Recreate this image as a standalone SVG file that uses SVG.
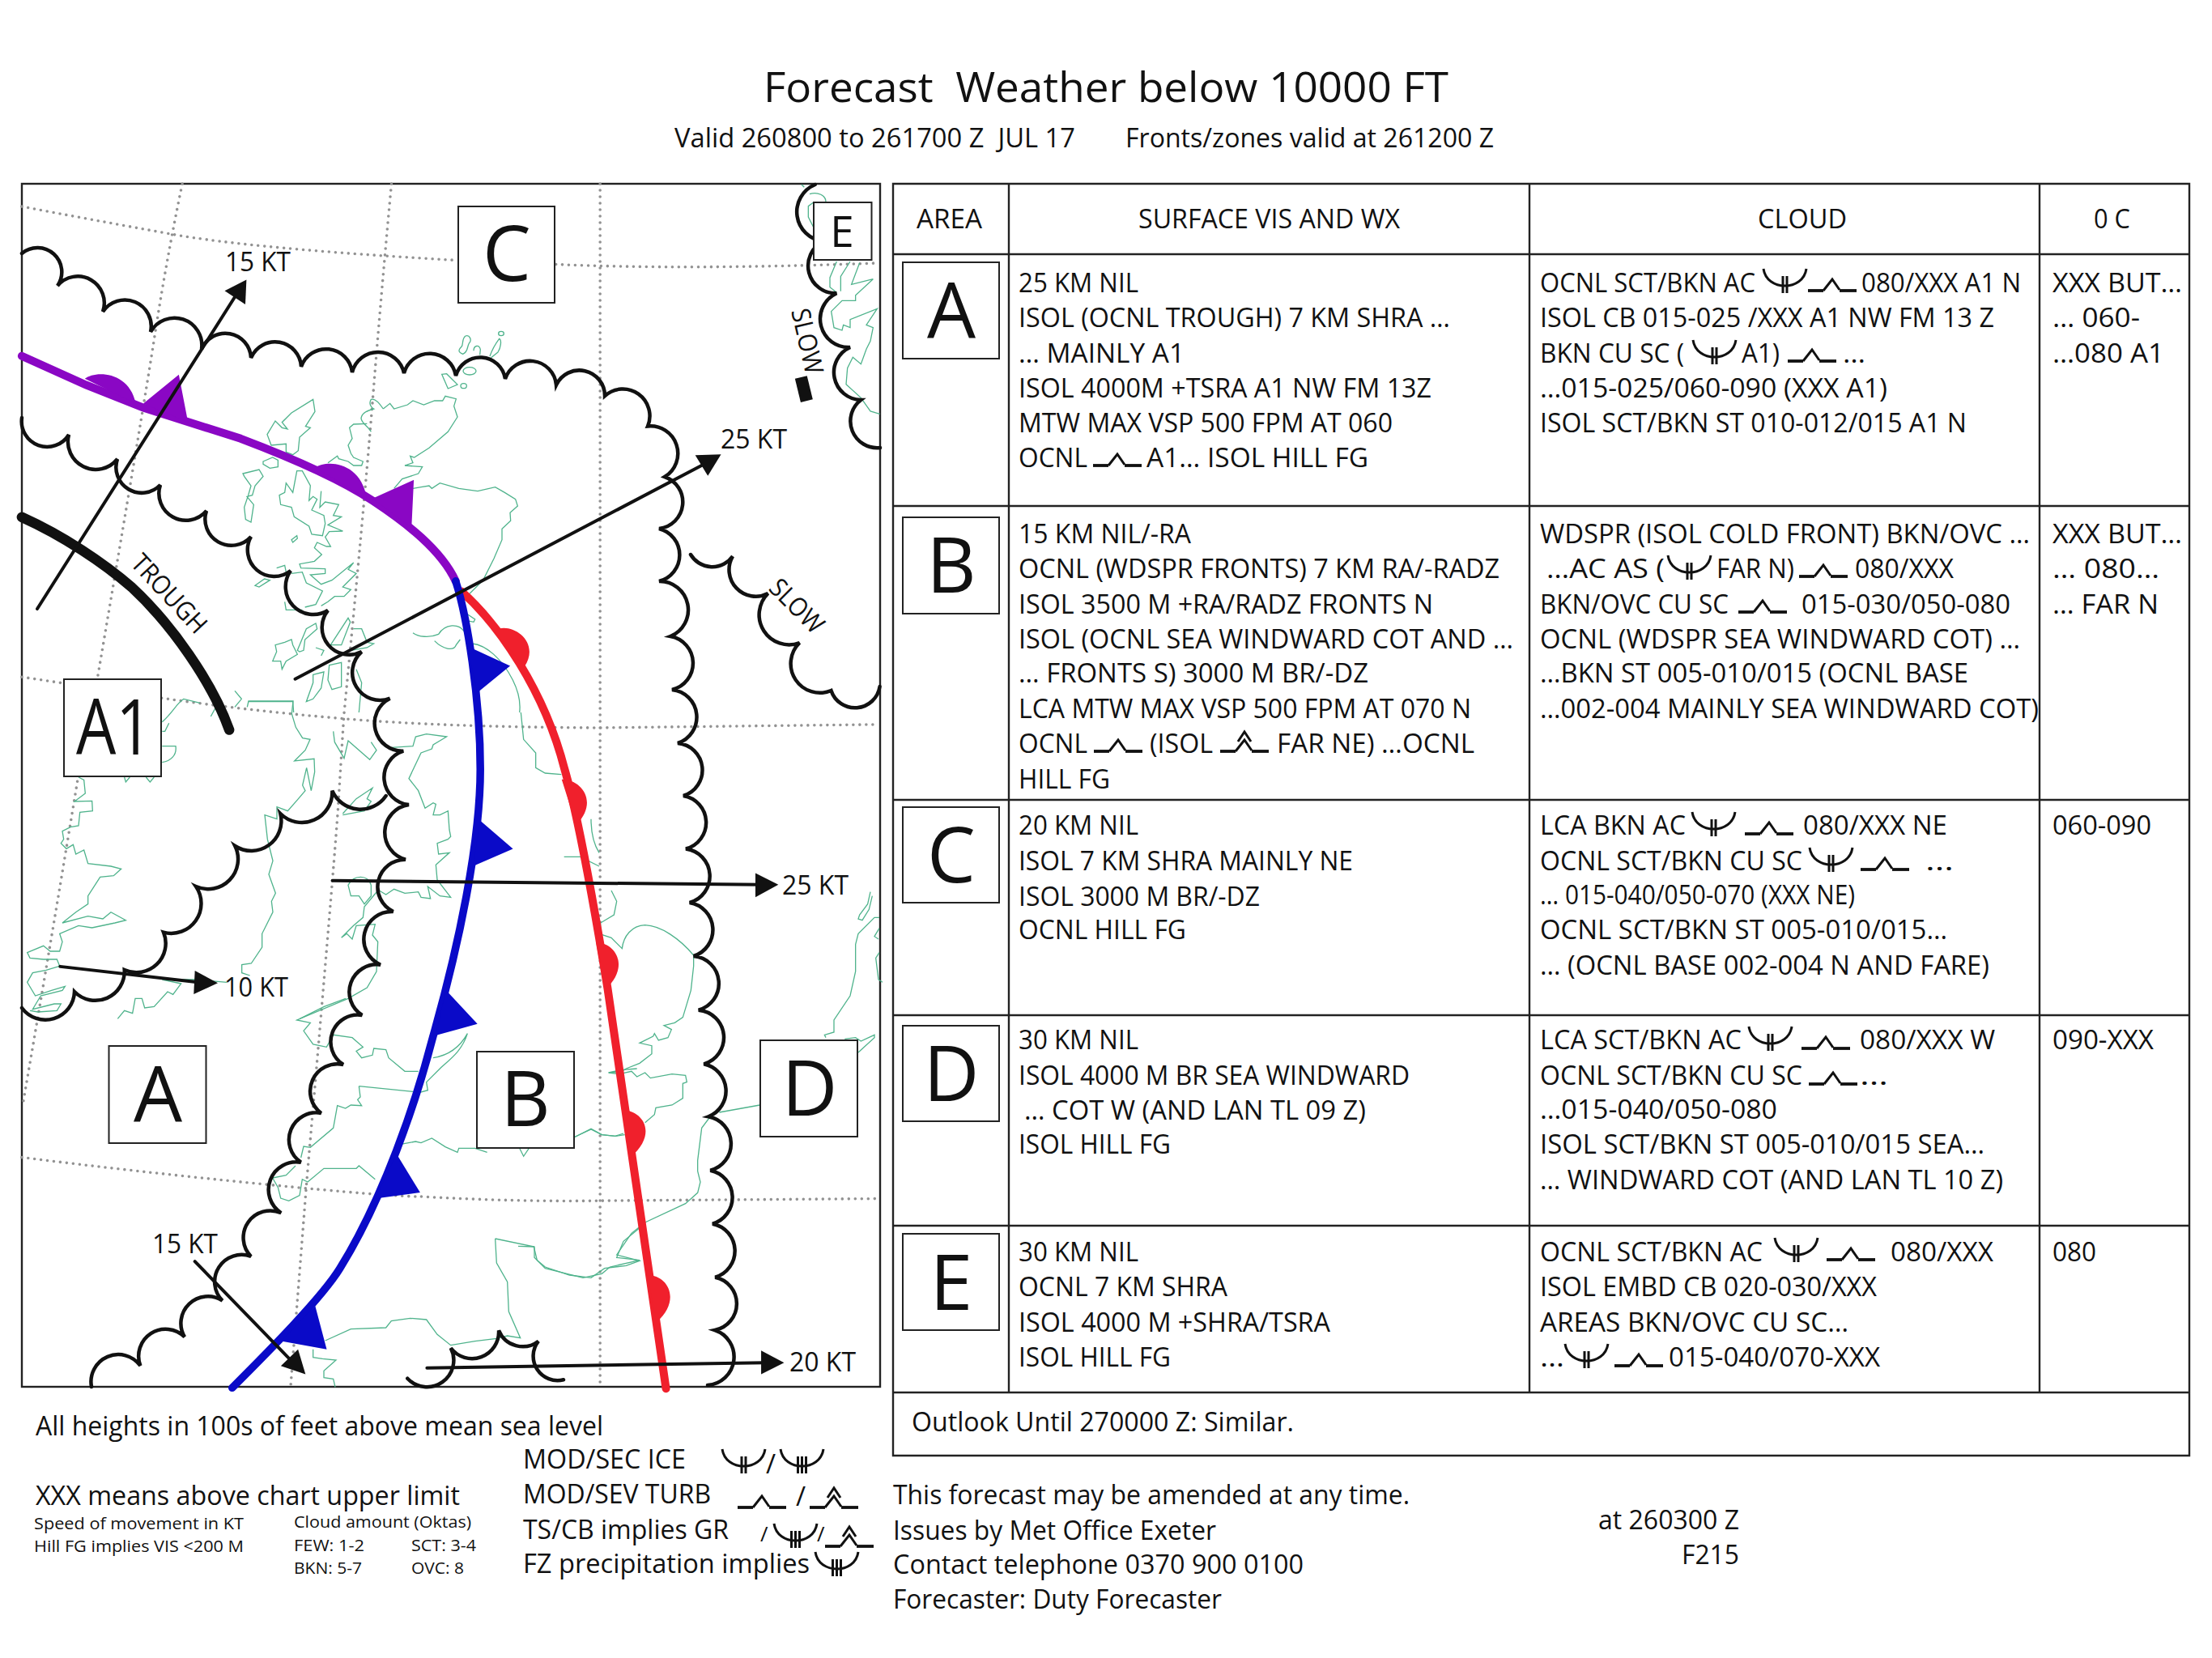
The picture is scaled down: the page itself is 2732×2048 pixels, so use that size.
<svg xmlns="http://www.w3.org/2000/svg" width="2732" height="2048" viewBox="0 0 2732 2048">
<style>
text{font-family:"Open Sans","Noto Sans","Liberation Sans",sans-serif;fill:#111;white-space:pre}
.t{font-size:33px}
.s{font-size:20.500px}
.k{font-size:32px}
.b{font-size:95px;text-anchor:middle}
.sl{font-size:26px}
.box{fill:#fff;stroke:#222;stroke-width:2}
.z *{vector-effect:non-scaling-stroke}
.grid{fill:none;stroke:#929292;stroke-width:3.600;stroke-dasharray:0 8;stroke-linecap:round}
.coast path,.coast ellipse{fill:none;stroke:#4fb38c;stroke-width:1.300;vector-effect:non-scaling-stroke}
.cloud{fill:none;stroke:#111;stroke-width:4.500;stroke-linecap:round;stroke-linejoin:miter}
.wind{fill:none;stroke:#111;stroke-width:4;stroke-linecap:round}
.rule{stroke:#222;stroke-width:2.400;fill:none}
.sym{fill:none;stroke:#111;stroke-width:3}
.symb{fill:none;stroke:#111;stroke-width:3.800}
</style>
<defs>
<g id="ice2"><path class="sym" d="M0 0C2 14 14 21 26.500 21C39 21 51 14 53 0"/><path class="sym" d="M24 9V30M29 9V30"/></g>
<g id="ice3"><path class="sym" d="M0 0C2 14 14 21 26.500 21C39 21 51 14 53 0"/><path class="sym" d="M21.500 9V30M26.500 9V30M31.500 9V30"/></g>
<g id="turb"><path class="symb" d="M0 15H19"/><path class="sym" d="M19 15L30 1L39 14"/><path class="symb" d="M39 15H60"/></g>
<g id="turbsev"><path class="symb" d="M0 25H19"/><path class="sym" d="M19 25L30 11L39 24M22 13L30 1L38 13"/><path class="symb" d="M39 25H60"/></g>
</defs>
<g id="title">
<text x="943" y="126" font-size="52" textLength="846" lengthAdjust="spacingAndGlyphs">Forecast  Weather below 10000 FT</text>
<text class="t" x="833" y="182" textLength="495" lengthAdjust="spacingAndGlyphs">Valid 260800 to 261700 Z  JUL 17</text>
<text class="t" x="1390" y="182" textLength="455" lengthAdjust="spacingAndGlyphs">Fronts/zones valid at 261200 Z</text>
</g>
<g id="map">
<rect x="27" y="227" width="1060" height="1486" fill="#fff" stroke="#222" stroke-width="2.400"/>
<g class="z" id="graticule" transform="matrix(.7079 0 0 .5102 0 200)">
<path class="grid" d="M38 108Q160 140 300 175T795 238M970 248Q1200 262 1530 245"/>
<path class="grid" d="M38 1247L110 1262M282 1298Q430 1328 600 1348T1045 1370L1530 1362"/>
<path class="grid" d="M38 2410Q240 2445 460 2475T735 2505Q900 2518 1050 2515L1530 2510"/>
<path class="grid" d="M318 53Q290 240 270 420T170 1250M135 1500Q90 1880 40 2280"/>
<path class="grid" d="M683 53Q665 320 650 580T600 1340Q595 1450 590 1560T535 2470L507 2966"/>
<path class="grid" d="M1047 53V2960"/>
</g>
<g id="coast" class="coast">
<g transform="translate(290 400) scale(.33333)">
<path d="M855 45C870 40 880 60 868 72C860 85 865 105 845 112C830 105 825 100 840 85C848 75 840 55 855 45ZM885 100C885 80 905 75 910 95L908 115M945 120C955 90 965 75 980 55C990 60 985 90 975 105L950 125"/>
<ellipse cx="987" cy="36" rx="10" ry="8"/><ellipse cx="870" cy="175" rx="24" ry="14"/><ellipse cx="848" cy="230" rx="11" ry="9"/>
<path d="M767 187L785 185L825 225L790 240ZM550 315C540 300 520 275 505 280C495 295 505 310 515 315C495 320 470 330 468 350C470 370 495 380 505 400M550 315L575 295L590 315L640 300L660 285L700 300L740 285L770 285L780 268L820 278L812 305L825 345L790 400L720 460L665 495L650 490L660 515L630 525L695 530L680 555L620 575L590 610M660 610L690 605L720 600L730 610L760 590L830 610L900 620L965 605L1000 625L1040 650L1048 675L1020 700L1022 730L990 760L990 800L960 870L920 950L870 1000"/>
<path d="M490 370L440 372L425 385L435 425L420 450L430 480L440 495L475 510L470 525L440 525L420 510L385 500L380 490L345 515M290 280L297 325L262 380L280 385L240 420L235 470L215 485L190 475L190 445L135 450L120 410L150 360L175 385L195 390L175 365L210 330ZM105 510L140 495L160 505L160 530L130 535L105 520ZM30 555L90 540L105 565L75 600L65 635L45 640L70 670L60 735L40 725L35 680L50 635L60 600L35 565Z"/>
<path d="M230 545L250 545L280 600L275 655L290 640L305 650L285 690L330 710L335 740L325 785L285 780L275 750L220 715L210 680L170 670L165 635L185 625L190 590L215 625ZM320 620L315 680L335 660L385 670L365 710L395 715L345 745L400 768L350 770L335 790L355 825L340 825L305 810L295 830L322 855L295 880L240 890L245 905L335 908L335 925L280 930L320 965L360 950L440 885L420 910L450 925L400 975L430 985L405 1010L370 1010L345 1030L320 1045M210 925L250 920L265 960L325 990L300 1040L260 1050M75 970L110 945L130 950L90 975ZM155 905L185 895L190 920M185 1030L190 1060L250 1060M210 800L230 785L232 795L215 810Z"/>
<path d="M355 1190L420 1090L428 1105L395 1190ZM232 1210L265 1130L300 1110L305 1130L260 1170L255 1210L240 1215ZM140 1250L155 1215L150 1190L185 1180L210 1170L215 1190L232 1225L190 1250L175 1280L170 1250ZM660 1145C680 1160 720 1165 755 1150C780 1110 830 1110 850 1140M740 1175C770 1205 810 1215 820 1190L835 1170M860 1075L890 1095L885 1105L860 1100M880 1185C930 1190 990 1240 1030 1320C1050 1360 1060 1400 1055 1440M440 1130L470 1130L490 1180L515 1185L490 1200L430 1210M300 1200L330 1210L320 1230M290 1300L330 1290L320 1350L290 1390L265 1400L290 1330ZM350 1265L395 1255L395 1345L360 1355L345 1320ZM450 1280L470 1330L460 1440M50 1400L215 1400L218 1440M0 1360L25 1390L0 1420"/>
</g>
<g transform="translate(27 860) scale(.33333)">
<path d="M520 95C560 60 570 30 600 10L660 25M700 75L730 20M545 100L530 130L520 130M520 185L570 185C575 220 550 240 520 245M380 300L385 318L400 300M460 300L475 318L490 300M835 40L840 18L1005 18L1000 65L1015 115L1040 155L1068 160L1050 200L1010 240L1083 232L1085 280L1072 350L1055 265L1040 330L1050 350L1020 385L985 425L945 410L945 455L900 440L910 530L930 610L915 660L940 730L925 760L930 800L890 880L890 930L850 990L815 995L815 1025L845 1035"/>
<path d="M210 300L230 310L235 360L195 390L260 388L262 425L215 430L210 480L180 485L150 500L155 530L145 545L165 565L190 550L200 585L230 570L245 620L330 630L368 640L340 665L290 670L245 740L245 770L200 800L150 840L245 815L300 825L330 800L385 830L345 840L260 858L210 850L140 880L150 910L140 945L105 945L80 925L20 950L30 970L80 975L130 975L140 1000L90 1015L40 1025L20 1060L50 1110L110 1090L160 1075L150 1090L70 1110L40 1160L120 1140L145 1140L130 1165L60 1170L30 1165M355 1195L380 1165L410 1175L420 1120L445 1120L455 1155L490 1150L540 1095L560 1105L590 1065L520 1050L640 1050L760 1060M1030 1195L1120 1150L1200 1120"/>
</g>
<g transform="translate(340 880) scale(.33333)">
<path d="M910 0L920 100L965 150L965 205L1000 225L1060 230M215 70L220 110L255 170L270 105L350 175L375 140L355 110M250 375L300 320L360 280L340 320L355 330L330 365L250 380M430 130L510 125L520 90L560 80L635 90L585 120L580 135L540 150L495 245L530 290L555 355L585 335L595 340L585 380L610 380L640 365L645 435L650 460L640 470L600 485L605 525L645 520L595 565L600 620L650 685L610 680L565 645L575 690L540 685L530 665L480 670L440 655L410 675L385 660M270 640C290 600 345 600 355 640L355 680L330 710L310 680L280 680L270 640ZM380 660L330 720L325 760L290 790L245 835L265 820L285 840L300 790L370 785L360 825L380 850L375 960L340 1020L270 1060L80 1140L130 1150L105 1180L140 1230L190 1240L215 1195L285 1205L325 1240L300 1255L320 1280L360 1270L365 1245L410 1250L420 1280L480 1330L530 1330M585 1280C650 1270 690 1230 712 1190C690 1260 640 1290 610 1320L560 1370L565 1400L530 1410"/>
<path d="M1170 395C1170 430 1175 480 1200 520M1070 535L1130 535L1200 570"/>
</g>
<g transform="translate(320 1300) scale(.33333)">
<path d="M370 125L570 145M370 125L375 165L365 175L380 197L340 195L320 207L290 197L275 280L190 352L165 348L155 390M135 420L100 455L50 465L70 500L80 540L110 550L150 530L160 470L180 480L240 430L360 430L370 420L430 470M525 340L580 330L600 335L640 318L690 350L735 370L740 355L800 355L845 370M965 355L980 385L1000 355M1165 315L1230 285L1270 305L1320 310L1350 300M875 690L880 780L920 850L925 960L968 1058L920 1050L880 1060L800 1070L710 1085L660 1045L620 990L560 985L490 995L470 1020L340 1025L245 1068M875 690L1020 720L1020 760L1060 800L1200 835L1270 820L1300 795L1410 770L1325 760L1350 700L1410 650M200 1100L200 1130L235 1135L285 1140L240 1180L240 1205L275 1210L282 1240M1295 75L1340 65L1400 60"/>
</g>
<g transform="translate(640 1100) scale(.33333)">
<path d="M345 0L365 40L355 90L305 120L305 150M300 160L345 175L385 215C390 170 420 130 470 128C530 130 600 180 650 240L650 280L640 370L610 470L580 490L540 500L568 515L555 545L520 555L505 530L500 540L450 565L495 575L495 605L450 640L400 660L385 670L335 675L375 680L420 670L440 690L470 675L490 695L570 680L620 685L625 710L610 715L610 770L570 795L510 805L505 830L470 860M207 915L270 883L310 905L360 910L395 905M745 822L895 795M710 840L680 880L665 1000L665 1040L675 1080L665 1120L620 1160L470 1230L420 1270L365 1350L450 1372L400 1390L320 1400L270 1435L190 1425L100 1395L70 1370L58 1320L0 1318"/>
<path d="M1305 5L1295 50L1265 90L1260 105L1275 110L1300 70L1312 20M1338 100L1320 100L1260 160L1250 200L1250 300L1230 390L1170 480L1170 525L1135 535L1140 545M1210 550L1250 545L1270 558L1320 535L1320 545L1260 600M1338 140L1320 170L1335 180M1338 230L1325 250L1335 330L1350 340"/>
</g>
<g transform="translate(950 228) scale(.33333)">
<path d="M120 0L130 10M150 35C180 25 210 40 210 65M165 65L145 80L145 120L165 160M250 285L225 345L225 380L250 400M300 285L265 340L265 395M335 290L305 370L385 350L320 410L320 430L270 430L230 470L240 530L270 540L275 520L300 530L300 500L400 460L360 520L385 530L375 580L360 610L340 665L310 640L290 680L285 740L340 790L375 840L410 850"/>
</g>
</g>
<g class="z" id="fronts" transform="matrix(.7079 0 0 .5102 0 200)">
<path fill="none" stroke="#8a07c4" stroke-width="10" stroke-linecap="round" d="M38 470L150 540L250 595L420 670C500 712 590 765 650 820C710 875 770 940 795 1015"/>
<path fill="#8a07c4" d="M148 525C165 505 225 505 237 585ZM550 740C570 720 630 725 640 815ZM250 585L312 515L328 630ZM650 815L722 770L718 885Z"/>
<path fill="none" stroke="#f0202c" stroke-width="10" stroke-linecap="round" d="M805 1040C870 1120 950 1280 985 1470C1010 1590 1040 1830 1060 2000L1162 2970"/>
<path fill="#f0202c" d="M862 1135C890 1110 945 1160 915 1222ZM980 1495C1015 1495 1045 1550 1005 1605ZM1040 1890C1075 1890 1100 1950 1055 2005ZM1085 2295C1120 2295 1150 2350 1100 2410ZM1130 2695C1165 2695 1190 2755 1145 2810Z"/>
<path fill="none" stroke="#0a0ac8" stroke-width="9.500" stroke-linecap="round" d="M795 1015C815 1100 838 1300 838 1470C838 1650 800 1900 755 2120C725 2280 669 2509 593 2679C562 2749 470 2878 405 2968"/>
<path fill="#0a0ac8" d="M815 1172L890 1220L833 1285ZM838 1595L895 1663L825 1705ZM778 2005L833 2087L760 2115ZM692 2402L733 2495L655 2510ZM550 2770L570 2875L490 2855Z"/>
<path fill="none" stroke="#111" stroke-width="12.500" stroke-linecap="round" d="M38 860C110 905 180 970 230 1030C300 1120 370 1260 400 1375"/>
</g>
<g id="clouds">
<path class="cloud" d="M27 313A30 30 0 0 1 71 353A32.800 32.800 0 0 1 127 385A32.600 32.600 0 0 1 186 410A33.800 33.800 0 0 1 249 431A31.800 31.800 0 0 1 310 442A32.300 32.300 0 0 1 372 453A32.500 32.500 0 0 1 435 460A32.800 32.800 0 0 1 499 461A32.800 32.800 0 0 1 563 464A31.300 31.300 0 0 1 624 468A32.400 32.400 0 0 1 687 475.500A31.500 31.500 0 0 1 747 489A33.300 33.300 0 0 1 800 526.500A33.800 33.800 0 0 1 821 589A33 33 0 0 1 814 653A33.500 33.500 0 0 1 814 718A35.300 35.300 0 0 1 828 786A33.700 33.700 0 0 1 830 852A33.900 33.900 0 0 1 837 918A33.300 33.300 0 0 1 844 983A33.500 33.500 0 0 1 847 1048.500A34 34 0 0 1 851.700 1115A34 34 0 0 1 856.700 1181A34 34 0 0 1 862.700 1247.700A34 34 0 0 1 869.300 1314.300A34 34 0 0 1 875 1379.300A34 34 0 0 1 877.300 1445.700A34 34 0 0 1 880 1511.700A34 34 0 0 1 883.300 1577.700A33.300 33.300 0 0 1 883 1643A35 35 0 0 1 874 1711"/>
<path class="cloud" d="M27 516A31.500 31.500 0 0 0 85 537A34.300 34.300 0 0 0 145 567A31.700 31.700 0 0 0 198 599A33.300 33.300 0 0 0 255 631A32.500 32.500 0 0 0 310 663A32.900 32.900 0 0 0 359 705A34.300 34.300 0 0 0 405 754A33.700 33.700 0 0 0 446.700 805A34.300 34.300 0 0 0 481.700 862.700A34.300 34.300 0 0 0 498.300 927.700A34 34 0 0 0 505 994A34.600 34.600 0 0 0 501 1061.700A33.800 33.800 0 0 0 485.700 1126A34.300 34.300 0 0 0 470 1191.700A33.900 33.900 0 0 0 447.300 1254A33.300 33.300 0 0 0 424 1315A33.700 33.700 0 0 0 396.700 1375A33.500 33.500 0 0 0 371.700 1435.700A34.300 34.300 0 0 0 347.300 1498.300A33.300 33.300 0 0 0 310 1552A33.300 33.300 0 0 0 274.700 1606.600A33.300 33.300 0 0 0 228 1651.500A33.300 33.300 0 0 0 173.400 1687A33.700 33.700 0 0 0 113 1713"/>
<path class="cloud" d="M27 1245A36 36 0 0 0 92 1225A36 36 0 0 0 153.700 1198A36 36 0 0 0 202 1151.700A37 37 0 0 0 242 1095A37 37 0 0 0 290.300 1045A37 37 0 0 0 346.300 1005A37.500 37.500 0 0 0 410.300 976.700A38 38 0 0 0 476.700 983"/>
<path class="cloud" d="M1006.700 228A36.500 36.500 0 0 0 1016.700 298A34 34 0 0 0 1033.300 362.300A35 35 0 0 0 1050 429A34 34 0 0 0 1063.300 494A33 33 0 0 0 1087 553"/>
<path class="cloud" d="M853 685A31 31 0 0 0 905 687A33 33 0 0 0 948.600 733A37 37 0 0 0 987.500 794A36 36 0 0 0 1026.500 853A31 31 0 0 0 1086.600 848"/>
<path class="cloud" d="M503.300 1702.700A33 33 0 0 0 556.700 1665A33 33 0 0 0 616 1643.300A32 32 0 0 0 665 1656.700A30 30 0 0 0 696 1704.300"/>
</g>
<g class="z" id="connectors" transform="matrix(.7079 0 0 .5102 0 200)">
<path class="wind" d="M65 1082L412 322"/><polygon points="430,285 392,312 428,345" fill="#111"/>
<path class="wind" d="M515 1252L1228 732"/><polygon points="1258,708 1213,710 1235,760" fill="#111"/>
<path class="wind" d="M580 1740L1330 1750"/><polygon points="1358,1750 1318,1722 1318,1780" fill="#111"/>
<path class="wind" d="M105 1948L345 1986"/><polygon points="380,1988 340,1958 338,2015" fill="#111"/>
<path class="wind" d="M340 2662L510 2905"/><polygon points="533,2935 520,2875 490,2915" fill="#111"/>
<path class="wind" d="M745 2920L1335 2907"/><polygon points="1368,2907 1328,2878 1328,2935" fill="#111"/>
<polygon points="1387,525 1408,518 1418,575 1397,582" fill="#111"/>
</g>
<g id="map-labels">
<text class="k" x="278" y="335" textLength="81" lengthAdjust="spacingAndGlyphs">15 KT</text>
<text class="k" x="890" y="554" textLength="82" lengthAdjust="spacingAndGlyphs">25 KT</text>
<text class="k" x="966" y="1105" textLength="82" lengthAdjust="spacingAndGlyphs">25 KT</text>
<text class="k" x="277" y="1231" textLength="79" lengthAdjust="spacingAndGlyphs">10 KT</text>
<text class="k" x="188" y="1548" textLength="81" lengthAdjust="spacingAndGlyphs">15 KT</text>
<text class="k" x="975" y="1694" textLength="82" lengthAdjust="spacingAndGlyphs">20 KT</text>
<text class="k" transform="translate(160 697) rotate(47)" textLength="120" lengthAdjust="spacingAndGlyphs">TROUGH</text>
<text class="k" transform="translate(948 728) rotate(45)" textLength="80" lengthAdjust="spacingAndGlyphs">SLOW</text>
<text class="k" transform="translate(977 384) rotate(77)" textLength="82" lengthAdjust="spacingAndGlyphs">SLOW</text>
</g>
</g>
<g id="zone-C"><rect class="box" x="566" y="255" width="119" height="119"/><text class="b" x="626" y="347">C</text></g>
<g id="zone-E"><rect class="box" x="1005" y="250" width="71.500" height="71"/><text class="b" style="font-size:53px" x="1040" y="305">E</text></g>
<g id="zone-A1"><rect class="box" x="79" y="839" width="120" height="120"/><text class="b" x="141" y="932" textLength="94" lengthAdjust="spacingAndGlyphs">A1</text></g>
<g id="zone-A"><rect class="box" x="134.500" y="1292" width="120" height="120"/><text class="b" x="195" y="1386">A</text></g>
<g id="zone-B"><rect class="box" x="589" y="1299" width="120" height="119"/><text class="b" x="649" y="1391">B</text></g>
<g id="zone-D"><rect class="box" x="939" y="1285" width="120" height="119"/><text class="b" x="1000" y="1378">D</text></g>
<g id="table">
<path class="rule" d="M1103 227H2704V1798H1103ZM1246 227V1720M1889 227V1720M2519 227V1720M1103 314H2704M1103 625H2704M1103 988H2704M1103 1254H2704M1103 1514H2704M1103 1720H2704"/>
<g id="header">
<text class="t" x="1132" y="282" textLength="81" lengthAdjust="spacingAndGlyphs">AREA</text>
<text class="t" x="1406" y="282" textLength="323" lengthAdjust="spacingAndGlyphs">SURFACE VIS AND WX</text>
<text class="t" x="2171" y="282" textLength="110" lengthAdjust="spacingAndGlyphs">CLOUD</text>
<text class="t" x="2586" y="282" textLength="45" lengthAdjust="spacingAndGlyphs">0 C</text>
</g>
<g id="row-A">
<rect class="box" x="1115" y="324" width="119" height="119"/><text class="b" x="1175" y="418">A</text>
<text class="t" x="1258" y="361" textLength="148" lengthAdjust="spacingAndGlyphs">25 KM NIL</text>
<text class="t" x="1258" y="404" textLength="533" lengthAdjust="spacingAndGlyphs">ISOL (OCNL TROUGH) 7 KM SHRA …</text>
<text class="t" x="1258" y="448" textLength="205" lengthAdjust="spacingAndGlyphs">… MAINLY A1</text>
<text class="t" x="1258" y="491" textLength="510" lengthAdjust="spacingAndGlyphs">ISOL 4000M +TSRA A1 NW FM 13Z</text>
<text class="t" x="1258" y="534" textLength="462" lengthAdjust="spacingAndGlyphs">MTW MAX VSP 500 FPM AT 060</text>
<text class="t" x="1258" y="577" textLength="85" lengthAdjust="spacingAndGlyphs">OCNL</text><use href="#turb" x="1350" y="560"/><text class="t" x="1416" y="577" textLength="274" lengthAdjust="spacingAndGlyphs">A1… ISOL HILL FG</text>
<text class="t" x="1902" y="361" textLength="266" lengthAdjust="spacingAndGlyphs">OCNL SCT/BKN AC</text><use href="#ice2" x="2178" y="332"/><use href="#turb" x="2233" y="344"/><text class="t" x="2299" y="361" textLength="197" lengthAdjust="spacingAndGlyphs">080/XXX A1 N</text>
<text class="t" x="1902" y="404" textLength="561" lengthAdjust="spacingAndGlyphs">ISOL CB 015-025 /XXX A1 NW FM 13 Z</text>
<text class="t" x="1902" y="448" textLength="178" lengthAdjust="spacingAndGlyphs">BKN CU SC (</text><use href="#ice2" x="2091" y="420"/><text class="t" x="2151" y="448" textLength="47" lengthAdjust="spacingAndGlyphs">A1)</text><use href="#turb" x="2208" y="431"/><text class="t" x="2276" y="448" textLength="28" lengthAdjust="spacingAndGlyphs">…</text>
<text class="t" x="1902" y="491" textLength="429" lengthAdjust="spacingAndGlyphs">…015-025/060-090 (XXX A1)</text>
<text class="t" x="1902" y="534" textLength="527" lengthAdjust="spacingAndGlyphs">ISOL SCT/BKN ST 010-012/015 A1 N</text>
<text class="t" x="2535" y="361" textLength="160" lengthAdjust="spacingAndGlyphs">XXX BUT…</text>
<text class="t" x="2535" y="404" textLength="108" lengthAdjust="spacingAndGlyphs">… 060-</text>
<text class="t" x="2535" y="448" textLength="138" lengthAdjust="spacingAndGlyphs">…080 A1</text>
</g>
<g id="row-B">
<rect class="box" x="1115" y="639" width="119" height="119"/><text class="b" x="1175" y="732">B</text>
<text class="t" x="1258" y="671" textLength="213" lengthAdjust="spacingAndGlyphs">15 KM NIL/-RA</text>
<text class="t" x="1258" y="714" textLength="594" lengthAdjust="spacingAndGlyphs">OCNL (WDSPR FRONTS) 7 KM RA/-RADZ</text>
<text class="t" x="1258" y="758" textLength="512" lengthAdjust="spacingAndGlyphs">ISOL 3500 M +RA/RADZ FRONTS N</text>
<text class="t" x="1258" y="801" textLength="611" lengthAdjust="spacingAndGlyphs">ISOL (OCNL SEA WINDWARD COT AND …</text>
<text class="t" x="1258" y="843" textLength="432" lengthAdjust="spacingAndGlyphs">… FRONTS S) 3000 M BR/-DZ</text>
<text class="t" x="1258" y="887" textLength="559" lengthAdjust="spacingAndGlyphs">LCA MTW MAX VSP 500 FPM AT 070 N</text>
<text class="t" x="1258" y="930" textLength="85" lengthAdjust="spacingAndGlyphs">OCNL</text><use href="#turb" x="1351" y="913"/><text class="t" x="1420" y="930" textLength="78" lengthAdjust="spacingAndGlyphs">(ISOL</text><use href="#turbsev" x="1507" y="903"/><text class="t" x="1577" y="930" textLength="244" lengthAdjust="spacingAndGlyphs">FAR NE) …OCNL</text>
<text class="t" x="1258" y="974" textLength="113" lengthAdjust="spacingAndGlyphs">HILL FG</text>
<text class="t" x="1902" y="671" textLength="605" lengthAdjust="spacingAndGlyphs">WDSPR (ISOL COLD FRONT) BKN/OVC …</text>
<text class="t" x="1910" y="714" textLength="146" lengthAdjust="spacingAndGlyphs">…AC AS (</text><use href="#ice2" x="2060" y="686"/><text class="t" x="2120" y="714" textLength="96" lengthAdjust="spacingAndGlyphs">FAR N)</text><use href="#turb" x="2222" y="697"/><text class="t" x="2291" y="714" textLength="122" lengthAdjust="spacingAndGlyphs">080/XXX</text>
<text class="t" x="1902" y="758" textLength="233" lengthAdjust="spacingAndGlyphs">BKN/OVC CU SC</text><use href="#turb" x="2147" y="741"/><text class="t" x="2225" y="758" textLength="258" lengthAdjust="spacingAndGlyphs">015-030/050-080</text>
<text class="t" x="1902" y="801" textLength="593" lengthAdjust="spacingAndGlyphs">OCNL (WDSPR SEA WINDWARD COT) …</text>
<text class="t" x="1902" y="843" textLength="529" lengthAdjust="spacingAndGlyphs">…BKN ST 005-010/015 (OCNL BASE</text>
<text class="t" x="1902" y="887" textLength="616" lengthAdjust="spacingAndGlyphs">…002-004 MAINLY SEA WINDWARD COT)</text>
<text class="t" x="2535" y="671" textLength="160" lengthAdjust="spacingAndGlyphs">XXX BUT…</text>
<text class="t" x="2535" y="714" textLength="132" lengthAdjust="spacingAndGlyphs">… 080…</text>
<text class="t" x="2535" y="758" textLength="131" lengthAdjust="spacingAndGlyphs">… FAR N</text>
</g>
<g id="row-C">
<rect class="box" x="1115" y="997" width="119" height="118"/><text class="b" x="1175" y="1090">C</text>
<text class="t" x="1258" y="1031" textLength="148" lengthAdjust="spacingAndGlyphs">20 KM NIL</text>
<text class="t" x="1258" y="1075" textLength="413" lengthAdjust="spacingAndGlyphs">ISOL 7 KM SHRA MAINLY NE</text>
<text class="t" x="1258" y="1119" textLength="298" lengthAdjust="spacingAndGlyphs">ISOL 3000 M BR/-DZ</text>
<text class="t" x="1258" y="1160" textLength="207" lengthAdjust="spacingAndGlyphs">OCNL HILL FG</text>
<text class="t" x="1902" y="1031" textLength="180" lengthAdjust="spacingAndGlyphs">LCA BKN AC</text><use href="#ice2" x="2090" y="1003"/><use href="#turb" x="2155" y="1015"/><text class="t" x="2227" y="1031" textLength="178" lengthAdjust="spacingAndGlyphs">080/XXX NE</text>
<text class="t" x="1902" y="1075" textLength="324" lengthAdjust="spacingAndGlyphs">OCNL SCT/BKN CU SC</text><use href="#ice2" x="2235" y="1047"/><use href="#turb" x="2298" y="1059"/><text class="t" x="2378" y="1075" textLength="35" lengthAdjust="spacingAndGlyphs">…</text>
<text class="t" x="1902" y="1117" textLength="389" lengthAdjust="spacingAndGlyphs">… 015-040/050-070 (XXX NE)</text>
<text class="t" x="1902" y="1160" textLength="503" lengthAdjust="spacingAndGlyphs">OCNL SCT/BKN ST 005-010/015…</text>
<text class="t" x="1902" y="1204" textLength="555" lengthAdjust="spacingAndGlyphs">… (OCNL BASE 002-004 N AND FARE)</text>
<text class="t" x="2535" y="1031" textLength="122" lengthAdjust="spacingAndGlyphs">060-090</text>
</g>
<g id="row-D">
<rect class="box" x="1115" y="1267" width="119" height="118"/><text class="b" x="1175" y="1360">D</text>
<text class="t" x="1258" y="1296" textLength="148" lengthAdjust="spacingAndGlyphs">30 KM NIL</text>
<text class="t" x="1258" y="1340" textLength="483" lengthAdjust="spacingAndGlyphs">ISOL 4000 M BR SEA WINDWARD</text>
<text class="t" x="1265" y="1383" textLength="422" lengthAdjust="spacingAndGlyphs">… COT W (AND LAN TL 09 Z)</text>
<text class="t" x="1258" y="1425" textLength="188" lengthAdjust="spacingAndGlyphs">ISOL HILL FG</text>
<text class="t" x="1902" y="1296" textLength="249" lengthAdjust="spacingAndGlyphs">LCA SCT/BKN AC</text><use href="#ice2" x="2160" y="1268"/><use href="#turb" x="2225" y="1280"/><text class="t" x="2297" y="1296" textLength="167" lengthAdjust="spacingAndGlyphs">080/XXX W</text>
<text class="t" x="1902" y="1340" textLength="324" lengthAdjust="spacingAndGlyphs">OCNL SCT/BKN CU SC</text><use href="#turb" x="2234" y="1324"/><text class="t" x="2297" y="1340" textLength="35" lengthAdjust="spacingAndGlyphs">…</text>
<text class="t" x="1902" y="1382" textLength="293" lengthAdjust="spacingAndGlyphs">…015-040/050-080</text>
<text class="t" x="1902" y="1425" textLength="549" lengthAdjust="spacingAndGlyphs">ISOL SCT/BKN ST 005-010/015 SEA…</text>
<text class="t" x="1902" y="1469" textLength="572" lengthAdjust="spacingAndGlyphs">… WINDWARD COT (AND LAN TL 10 Z)</text>
<text class="t" x="2535" y="1296" textLength="125" lengthAdjust="spacingAndGlyphs">090-XXX</text>
</g>
<g id="row-E">
<rect class="box" x="1115" y="1524" width="119" height="119"/><text class="b" x="1175" y="1618">E</text>
<text class="t" x="1258" y="1558" textLength="148" lengthAdjust="spacingAndGlyphs">30 KM NIL</text>
<text class="t" x="1258" y="1601" textLength="258" lengthAdjust="spacingAndGlyphs">OCNL 7 KM SHRA</text>
<text class="t" x="1258" y="1645" textLength="385" lengthAdjust="spacingAndGlyphs">ISOL 4000 M +SHRA/TSRA</text>
<text class="t" x="1258" y="1688" textLength="188" lengthAdjust="spacingAndGlyphs">ISOL HILL FG</text>
<text class="t" x="1902" y="1558" textLength="275" lengthAdjust="spacingAndGlyphs">OCNL SCT/BKN AC</text><use href="#ice2" x="2192" y="1529"/><use href="#turb" x="2256" y="1541"/><text class="t" x="2335" y="1558" textLength="127" lengthAdjust="spacingAndGlyphs">080/XXX</text>
<text class="t" x="1902" y="1601" textLength="416" lengthAdjust="spacingAndGlyphs">ISOL EMBD CB 020-030/XXX</text>
<text class="t" x="1902" y="1645" textLength="381" lengthAdjust="spacingAndGlyphs">AREAS BKN/OVC CU SC…</text>
<text class="t" x="1902" y="1688" textLength="30" lengthAdjust="spacingAndGlyphs">…</text><use href="#ice2" x="1933" y="1660"/><use href="#turb" x="1994" y="1672"/><text class="t" x="2061" y="1688" textLength="261" lengthAdjust="spacingAndGlyphs">015-040/070-XXX</text>
<text class="t" x="2535" y="1558" textLength="54" lengthAdjust="spacingAndGlyphs">080</text>
</g>
<text class="t" id="outlook" x="1126" y="1768" textLength="472" lengthAdjust="spacingAndGlyphs">Outlook Until 270000 Z: Similar.</text>
</g>
<g id="issue">
<text class="t" x="1103" y="1858" textLength="638" lengthAdjust="spacingAndGlyphs">This forecast may be amended at any time.</text>
<text class="t" x="1103" y="1902" textLength="399" lengthAdjust="spacingAndGlyphs">Issues by Met Office Exeter</text>
<text class="t" x="1103" y="1944" textLength="507" lengthAdjust="spacingAndGlyphs">Contact telephone 0370 900 0100</text>
<text class="t" x="1103" y="1987" textLength="406" lengthAdjust="spacingAndGlyphs">Forecaster: Duty Forecaster</text>
<text class="t" x="1974" y="1889" textLength="174" lengthAdjust="spacingAndGlyphs">at 260300 Z</text>
<text class="t" x="2077" y="1932" textLength="71" lengthAdjust="spacingAndGlyphs">F215</text>
</g>
<g id="legend">
<text class="t" x="44" y="1773" textLength="701" lengthAdjust="spacingAndGlyphs">All heights in 100s of feet above mean sea level</text>
<text class="t" x="44" y="1859" textLength="524" lengthAdjust="spacingAndGlyphs">XXX means above chart upper limit</text>
<text class="s" x="42" y="1889" textLength="259" lengthAdjust="spacingAndGlyphs">Speed of movement in KT</text>
<text class="s" x="42" y="1917" textLength="259" lengthAdjust="spacingAndGlyphs">Hill FG implies VIS &lt;200 M</text>
<text class="s" x="363" y="1887" textLength="219" lengthAdjust="spacingAndGlyphs">Cloud amount (Oktas)</text>
<text class="s" x="363" y="1916" textLength="87" lengthAdjust="spacingAndGlyphs">FEW: 1-2</text>
<text class="s" x="508" y="1916" textLength="80" lengthAdjust="spacingAndGlyphs">SCT: 3-4</text>
<text class="s" x="363" y="1944" textLength="84" lengthAdjust="spacingAndGlyphs">BKN: 5-7</text>
<text class="s" x="508" y="1944" textLength="65" lengthAdjust="spacingAndGlyphs">OVC: 8</text>
<text class="t" x="646" y="1814" textLength="201" lengthAdjust="spacingAndGlyphs">MOD/SEC ICE</text>
<use href="#ice2" x="892" y="1790"/><text class="t" x="946" y="1820">/</text><use href="#ice3" x="964" y="1790"/>
<text class="t" x="646" y="1857" textLength="232" lengthAdjust="spacingAndGlyphs">MOD/SEV TURB</text>
<use href="#turb" x="911" y="1847"/><text class="t" x="983" y="1860">/</text><use href="#turbsev" x="1000" y="1837"/>
<text class="t" x="646" y="1901" textLength="254" lengthAdjust="spacingAndGlyphs">TS/CB implies GR</text>
<text class="sl" x="939" y="1904">/</text><use href="#ice3" x="956" y="1882"/><text class="sl" x="1009" y="1904">/</text><use href="#turbsev" x="1019" y="1885"/>
<text class="t" x="646" y="1943" textLength="354" lengthAdjust="spacingAndGlyphs">FZ precipitation implies</text>
<use href="#ice3" x="1007" y="1917"/>
</g>
</svg>
